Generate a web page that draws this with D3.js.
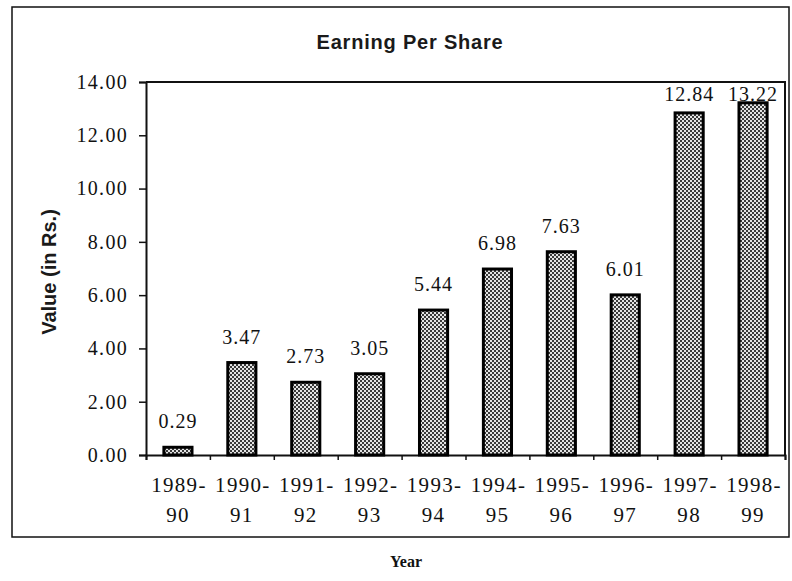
<!DOCTYPE html>
<meta charset="utf-8">
<style>
body { margin: 0; background: #fff; }
.tick text { font-family: "Liberation Serif", "Times New Roman", serif; }
</style>
<svg id="chart" width="792" height="581"></svg>
<script src="https://cdn.jsdelivr.net/npm/d3@7"></script>
<script>

var years = ["1989-90", "1990-91", "1991-92", "1992-93", "1993-94",
             "1994-95", "1995-96", "1996-97", "1997-98", "1998-99"];
var eps = [0.29, 3.47, 2.73, 3.05, 5.44, 6.98, 7.63, 6.01, 12.84, 13.22];
var yTicks = [0, 2, 4, 6, 8, 10, 12, 14];

var svg = d3.select("#chart");

// plot area (note: "top" is taken by window.top, so use other names)
var plotL = 146, plotR = 785, plotT = 82, plotB = 455;

var x = d3.scaleBand()
    .domain(years)
    .range([plotL, plotR])
    .paddingInner(0.56)
    .paddingOuter(0.28);

var y = d3.scaleLinear()
    .domain([0, 14])
    .range([plotB, plotT]);

// pattern for the dotted bar fill
var defs = svg.append("defs");
var pat = defs.append("pattern")
    .attr("id", "dots")
    .attr("width", 4).attr("height", 4)
    .attr("patternUnits", "userSpaceOnUse");
pat.append("rect").attr("width", 4).attr("height", 4).attr("fill", "#e4e4e4");
pat.append("rect").attr("width", 2).attr("height", 2).attr("fill", "#3a3a3a");
pat.append("rect").attr("x", 2).attr("y", 2).attr("width", 2).attr("height", 2).attr("fill", "#3a3a3a");

// outer border
svg.append("rect")
    .attr("x", 12).attr("y", 7)
    .attr("width", 777).attr("height", 530)
    .attr("fill", "none")
    .attr("stroke", "#111")
    .attr("stroke-width", 1.5);

// title
svg.append("text")
    .attr("x", 410).attr("y", 49)
    .attr("text-anchor", "middle")
    .style("font-family", "'Liberation Sans', Arial, sans-serif")
    .style("font-weight", "bold")
    .style("font-size", "20px")
    .style("letter-spacing", "0.8px")
    .attr("fill", "#1a1a1a")
    .text("Earning Per Share");

// plot frame (top + right)
svg.append("path")
    .attr("d", "M" + plotL + "," + plotT + "H" + plotR + "V" + plotB)
    .attr("fill", "none")
    .attr("stroke", "#111")
    .attr("stroke-width", 2);

// y axis
var yAxis = svg.append("g")
    .attr("transform", "translate(" + plotL + ",0)")
    .call(d3.axisLeft(y).tickValues(yTicks).tickFormat(d3.format(".2f")).tickSize(7).tickPadding(11));
yAxis.select(".domain").attr("stroke", "#111").attr("stroke-width", 2);
yAxis.selectAll(".tick line").attr("stroke", "#111").attr("stroke-width", 1.5);
yAxis.selectAll(".tick text")
    .style("font-size", "20px")
    .style("letter-spacing", "1.3px")
    .attr("fill", "#111");

// x axis: ticks at band boundaries
var xb = d3.scaleLinear().domain([0, years.length]).range([plotL, plotR]);
var xAxis = svg.append("g")
    .attr("transform", "translate(0," + plotB + ")")
    .call(d3.axisBottom(xb).tickValues(d3.range(years.length + 1)).tickFormat("").tickSize(5));
xAxis.select(".domain").attr("stroke", "#111").attr("stroke-width", 2);
xAxis.selectAll(".tick line").attr("stroke", "#111").attr("stroke-width", 1.5);

// x labels in two lines
var xl = svg.append("g")
    .selectAll("text")
    .data(years)
    .enter().append("text")
    .attr("text-anchor", "middle")
    .style("font-family", "'Liberation Serif', 'Times New Roman', serif")
    .style("font-size", "21px")
    .style("letter-spacing", "1.3px")
    .attr("fill", "#111");
xl.append("tspan")
    .attr("x", function(d) { return x(d) + x.bandwidth() / 2 + 1; })
    .attr("y", 492)
    .text(function(d) { return d.split("-")[0] + "-"; });
xl.append("tspan")
    .attr("x", function(d) { return x(d) + x.bandwidth() / 2; })
    .attr("y", 522)
    .text(function(d) { return d.split("-")[1]; });

// bars
svg.append("g")
    .selectAll("rect")
    .data(eps)
    .enter().append("rect")
    .attr("x", function(d, i) { return x(years[i]); })
    .attr("y", function(d) { return y(d); })
    .attr("width", x.bandwidth())
    .attr("height", function(d) { return plotB - y(d); })
    .attr("fill", "url(#dots)")
    .attr("stroke", "#000")
    .attr("stroke-width", 3);

// value labels
svg.append("g")
    .selectAll("text")
    .data(eps)
    .enter().append("text")
    .attr("x", function(d, i) { return x(years[i]) + x.bandwidth() / 2; })
    .attr("y", function(d) { return Math.max(y(d) - 19, plotT + 19); })
    .attr("text-anchor", "middle")
    .style("font-family", "'Liberation Serif', 'Times New Roman', serif")
    .style("font-size", "20px")
    .style("letter-spacing", "1px")
    .attr("fill", "#111")
    .text(function(d) { return d.toFixed(2); });

// y axis title
svg.append("text")
    .attr("transform", "translate(56,272) rotate(-90)")
    .attr("text-anchor", "middle")
    .style("font-family", "'Liberation Sans', Arial, sans-serif")
    .style("font-weight", "bold")
    .style("font-size", "20px")
    .attr("fill", "#1a1a1a")
    .text("Value (in Rs.)");

// x axis title
svg.append("text")
    .attr("x", 406).attr("y", 567)
    .attr("text-anchor", "middle")
    .style("font-family", "'Liberation Serif', 'Times New Roman', serif")
    .style("font-weight", "bold")
    .style("font-size", "16px")
    .attr("fill", "#111")
    .text("Year");

</script>
